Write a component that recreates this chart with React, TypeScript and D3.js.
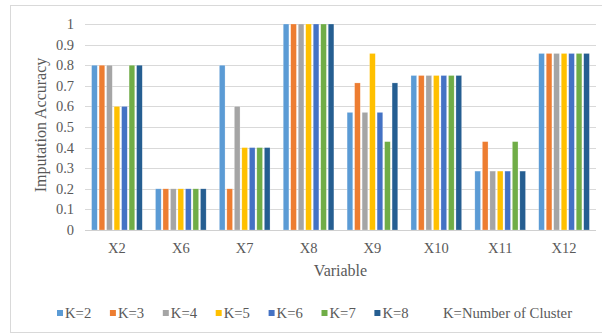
import React from "react";
import * as d3 from "d3";

const categories = ["X2", "X6", "X7", "X8", "X9", "X10", "X11", "X12"];
const seriesNames = ["K=2", "K=3", "K=4", "K=5", "K=6", "K=7", "K=8"];
const k2 = [0.8, 0.2, 0.8, 1, 0.571, 0.75, 0.286, 0.857];
const k3 = [0.8, 0.2, 0.2, 1, 0.714, 0.75, 0.429, 0.857];
const k4 = [0.8, 0.2, 0.6, 1, 0.571, 0.75, 0.286, 0.857];
const k5 = [0.6, 0.2, 0.4, 1, 0.857, 0.75, 0.286, 0.857];
const k6 = [0.6, 0.2, 0.4, 1, 0.571, 0.75, 0.286, 0.857];
const k7 = [0.8, 0.2, 0.4, 1, 0.429, 0.75, 0.429, 0.857];
const k8 = [0.8, 0.2, 0.4, 1, 0.714, 0.75, 0.286, 0.857];
const seriesValues = [k2, k3, k4, k5, k6, k7, k8];
const colors = ["#5B9BD5", "#ED7D31", "#A5A5A5", "#FFC000", "#4472C4", "#70AD47", "#255E91"];
const yTicks = [0, 0.1, 0.2, 0.3, 0.4, 0.5, 0.6, 0.7, 0.8, 0.9, 1];
const yTickLabels = ["0", "0.1", "0.2", "0.3", "0.4", "0.5", "0.6", "0.7", "0.8", "0.9", "1"];
const yTitle = "Imputation Accuracy";
const xTitle = "Variable";
const legendNote = "K=Number of Cluster";

const W = 602;
const H = 335;
const left = 85;
const right = 596;
const top = 24;
const bottom = 230;
const font = "Liberation Serif, DejaVu Serif, serif";
const textColor = "#595959";

export default function App() {
  const x0 = d3.scaleBand<string>().domain(categories).range([left, right]).padding(0);
  const x1 = d3
    .scaleBand<string>()
    .domain(seriesNames)
    .range([0, x0.bandwidth()])
    .paddingInner(0.24)
    .paddingOuter(0.88);
  const y = d3.scaleLinear().domain([0, 1]).range([bottom, top]);
  const ts = { fontFamily: font };

  return (
    <svg
      width={W}
      height={H}
      style={{ position: "absolute", left: 0, top: 0, background: "#fff", fontFamily: font }}
    >
      <rect x={10.5} y={5.5} width={W} height={327} fill="#fff" stroke="#D9D9D9" strokeWidth={1} />
      {yTicks.map((t, i) => (
        <g key={i}>
          <line
            x1={left}
            x2={right}
            y1={Math.round(y(t)) + 0.5}
            y2={Math.round(y(t)) + 0.5}
            stroke="#D9D9D9"
            strokeWidth={1}
          />
          <text
            x={74}
            y={y(t)}
            dy="0.35em"
            textAnchor="end"
            fontSize={14.5}
            fill={textColor}
            style={ts}
          >
            {yTickLabels[i]}
          </text>
        </g>
      ))}
      {categories.map((c, ci) => (
        <g key={c} transform={`translate(${x0(c)},0)`}>
          {seriesNames.map((s, si) => {
            const v = seriesValues[si][ci];
            return (
              <rect
                key={s}
                x={x1(s)}
                y={y(v)}
                width={x1.bandwidth()}
                height={y(0) - y(v)}
                fill={colors[si]}
                stroke="#ffffff"
                strokeOpacity={0.5}
                strokeWidth={0.5}
              />
            );
          })}
          <text
            x={x0.bandwidth() / 2}
            y={248}
            dy="0.35em"
            textAnchor="middle"
            fontSize={14.5}
            fill={textColor}
            style={ts}
          >
            {c}
          </text>
        </g>
      ))}
      <line x1={left} x2={right} y1={bottom + 0.5} y2={bottom + 0.5} stroke="#D0D0D0" strokeWidth={1} />
      <text
        x={(left + right) / 2}
        y={270}
        dy="0.35em"
        textAnchor="middle"
        fontSize={16}
        fill={textColor}
        style={ts}
      >
        {xTitle}
      </text>
      <text
        transform={`translate(40,${(top + bottom) / 2 - 2}) rotate(-90)`}
        dy="0.35em"
        textAnchor="middle"
        fontSize={16}
        fill={textColor}
        style={ts}
      >
        {yTitle}
      </text>
      {seriesNames.map((s, si) => (
        <g key={s} transform={`translate(${57 + si * 52.9},313)`}>
          <rect x={0} y={-3} width={6} height={6} fill={colors[si]} />
          <text x={8} y={0} dy="0.35em" fontSize={14.7} fill={textColor} style={ts}>
            {s}
          </text>
        </g>
      ))}
      <text x={443} y={313} dy="0.35em" fontSize={14.7} fill={textColor} style={ts}>
        {legendNote}
      </text>
    </svg>
  );
}
